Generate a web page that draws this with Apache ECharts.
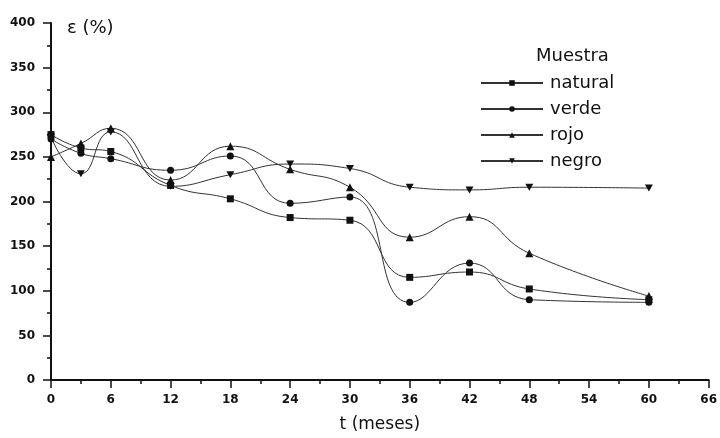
<!DOCTYPE html>
<html>
<head>
<meta charset="utf-8">
<script src="https://cdn.jsdelivr.net/npm/echarts@6/dist/echarts.min.js"></script>
<style>
  html, body { margin: 0; padding: 0; background: #fff; }
  #chart { width: 720px; height: 438px; }
</style>
</head>
<body>
<div id="chart"></div>
<script>
// Elongation at break over ageing time, per sample type
const months  = [0, 3, 6, 12, 18, 24, 30, 36, 42, 48, 60];
const natural = [275, 260, 256, 218, 203, 182, 179, 115, 121, 102, 90];
const verde   = [270, 254, 248, 235, 251, 198, 205, 87, 131, 90, 87];
const rojo    = [250, 265, 282, 224, 262, 236, 216, 160, 183, 142, 94];
const negro   = [272, 231, 278, 217, 230, 242, 237, 216, 213, 216, 215];

const xTicks = { min: 0, max: 66, step: 6 };
const yTicks = { min: 0, max: 400, step: 50 };

const FONT = '"DejaVu Sans", Arial, sans-serif';
const INK = '#111';

function pairs(values) {
  return months.map((m, i) => [m, values[i]]);
}

const downTriangle = 'path://M0,0L2,0L1,1.8Z';

function makeSeries(name, values, symbol, size) {
  return {
    name: name,
    type: 'line',
    data: pairs(values),
    smooth: 0.5,
    symbol: symbol,
    symbolSize: size,
    showAllSymbol: true,
    lineStyle: { color: '#333', width: 1 },
    itemStyle: { color: INK, borderWidth: 0 },
    emphasis: { disabled: true },
    animation: false
  };
}

const chart = echarts.init(document.getElementById('chart'), null, { renderer: 'canvas' });

chart.setOption({
  backgroundColor: '#fff',
  animation: false,
  textStyle: { fontFamily: FONT, color: INK },
  title: {
    text: 'Muestra',
    left: 531,
    top: 42,
    textStyle: { fontFamily: FONT, fontSize: 18, fontWeight: 'normal', color: INK }
  },
  legend: {
    orient: 'vertical',
    left: 475,
    top: 69,
    itemWidth: 62,
    itemHeight: 7,
    itemGap: 8,
    selectedMode: false,
    textStyle: { fontFamily: FONT, fontSize: 18, color: INK, lineHeight: 18, padding: [0, 0, 0, 2] },
    data: ['natural', 'verde', 'rojo', 'negro']
  },
  grid: { left: 51, right: 10, top: 23, bottom: 55, containLabel: false },
  xAxis: {
    type: 'value',
    min: xTicks.min,
    max: xTicks.max,
    interval: xTicks.step,
    name: 't (meses)',
    nameLocation: 'middle',
    nameGap: 36,
    nameTextStyle: { fontFamily: FONT, fontSize: 17, color: INK },
    axisLine: { show: true, onZero: false, lineStyle: { color: INK, width: 2 } },
    axisTick: { show: true, length: 8, lineStyle: { color: INK, width: 1.5 } },
    minorTick: { show: true, splitNumber: 2, length: 4, lineStyle: { color: INK, width: 1.5 } },
    axisLabel: { fontFamily: FONT, fontSize: 12, fontWeight: 'bold', color: INK, margin: 14 },
    splitLine: { show: false }
  },
  yAxis: {
    type: 'value',
    min: yTicks.min,
    max: yTicks.max,
    interval: yTicks.step,
    name: 'ε (%)',
    nameLocation: 'end',
    nameGap: -5,
    nameTextStyle: { fontFamily: FONT, fontSize: 18, color: INK, align: 'left', verticalAlign: 'middle', padding: [0, 0, 0, 16] },
    axisLine: { show: true, onZero: false, lineStyle: { color: INK, width: 2 } },
    axisTick: { show: true, length: 8, lineStyle: { color: INK, width: 1.5 } },
    minorTick: { show: true, splitNumber: 2, length: 4, lineStyle: { color: INK, width: 1.5 } },
    axisLabel: { fontFamily: FONT, fontSize: 12, fontWeight: 'bold', color: INK, margin: 16 },
    splitLine: { show: false }
  },
  series: [
    makeSeries('natural', natural, 'rect', 7),
    makeSeries('verde', verde, 'circle', 7),
    makeSeries('rojo', rojo, 'triangle', 8),
    makeSeries('negro', negro, downTriangle, [8, 7])
  ]
});
</script>
</body>
</html>
